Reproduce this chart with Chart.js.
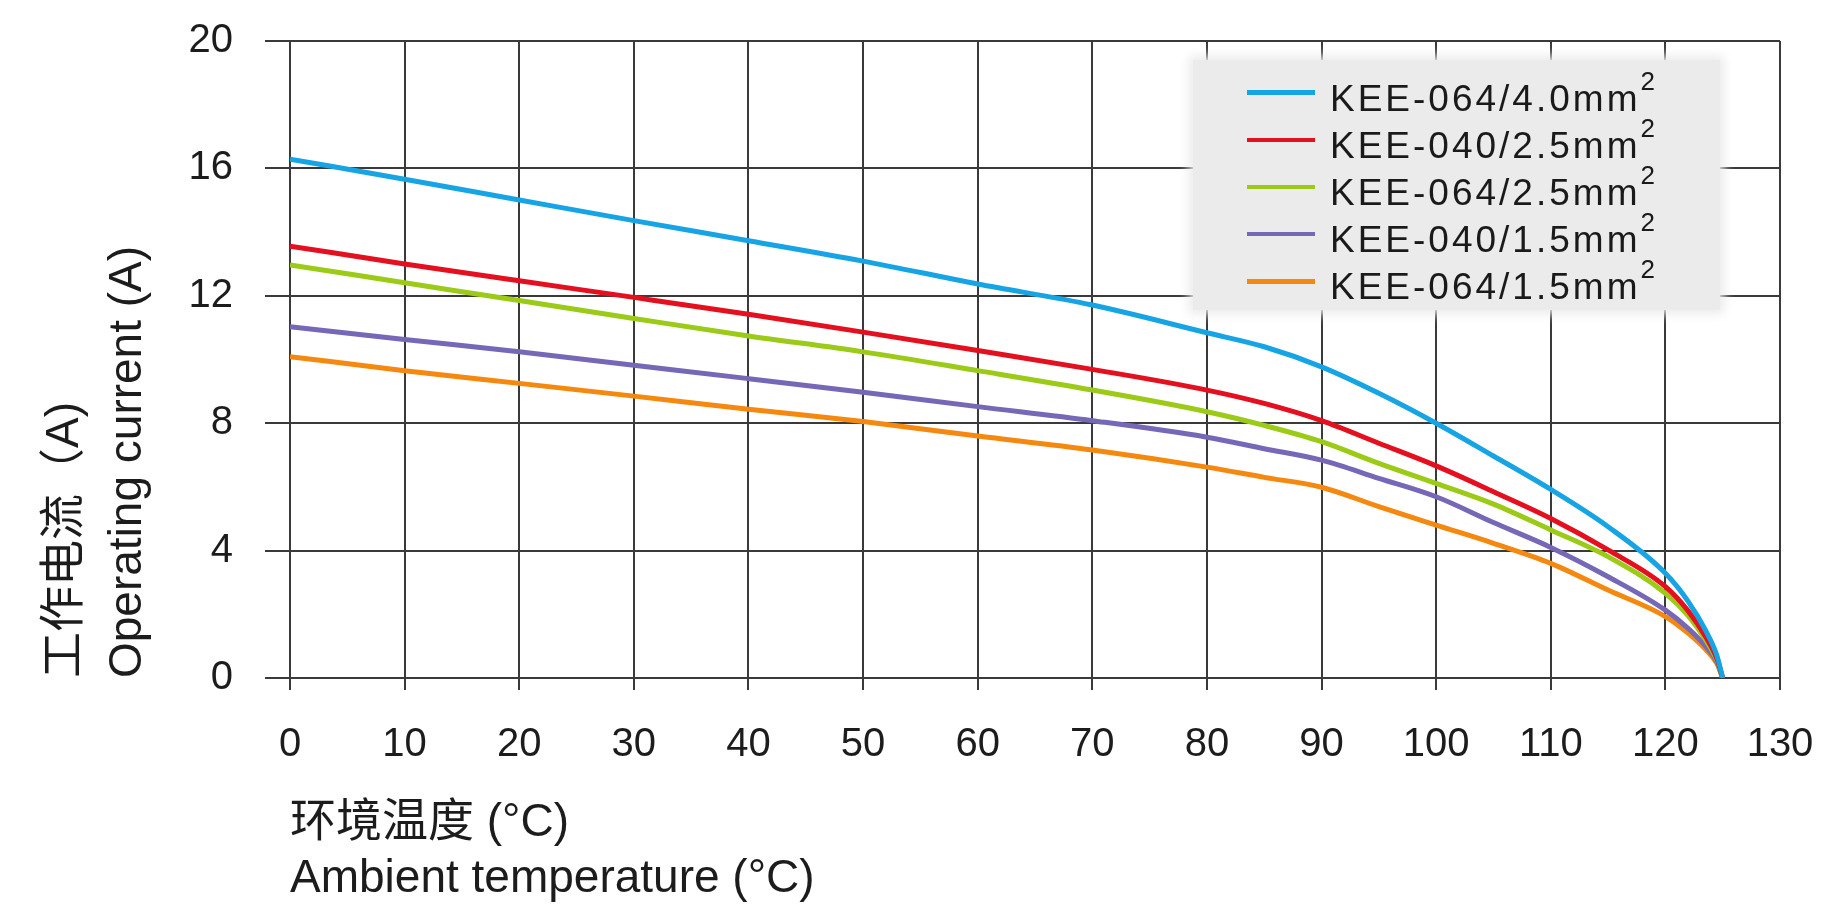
<!DOCTYPE html>
<html>
<head>
<meta charset="utf-8">
<title>工作电流 / Operating current vs ambient temperature</title>
<script src="https://cdn.jsdelivr.net/npm/chart.js@4.4.1/dist/chart.umd.min.js"></script>
<style>
  html, body { margin: 0; padding: 0; background: #fff; }
  #wrap { position: relative; width: 1830px; height: 919px; }
  #legend {
    position: absolute; left: 1193px; top: 60px; width: 527px; height: 250px;
    box-sizing: border-box; padding-top: 9px;
    background: #ebebeb; box-shadow: 0 0 10px 4px #ebebeb;
  }
  #legend .row { display: flex; align-items: center; height: 47.2px; }
  #legend .swatch { display: block; width: 68px; height: 4.5px; margin-left: 54px; margin-right: 15px; }
  #legend .label {
    position: relative; top: 6px; line-height: 1; white-space: nowrap;
    font: 37px "Liberation Sans", Arial, sans-serif; letter-spacing: 3px; color: #1a1a1a;
  }
  #legend .label sup { font-size: 26px; position: relative; top: -21px; vertical-align: baseline; letter-spacing: 0; }
</style>
</head>
<body>
<div id="wrap">
  <canvas id="deratingChart"></canvas>
  <div id="legend"></div>
</div>
<script>
// ambient temperature (°C) where the curves were read
const temps = [0, 10, 20, 30, 40, 50, 60, 70, 80, 85, 90, 95, 100, 105, 110, 115, 120, 122, 123.5, 124.5, 125];

// operating current (A) per cable type
const kee064_40 = [16.29, 15.66, 15.01, 14.36, 13.73, 13.09, 12.37, 11.71, 10.84, 10.4, 9.77, 8.94, 8.0, 6.97, 5.92, 4.75, 3.29, 2.4, 1.5, 0.7, 0];
const kee040_25 = [13.56, 13.0, 12.47, 11.95, 11.42, 10.86, 10.28, 9.69, 9.04, 8.62, 8.08, 7.37, 6.66, 5.85, 5.01, 4.02, 2.87, 2.1, 1.3, 0.6, 0];
const kee064_25 = [12.97, 12.41, 11.85, 11.29, 10.74, 10.24, 9.65, 9.04, 8.36, 7.93, 7.42, 6.74, 6.11, 5.46, 4.65, 3.81, 2.66, 1.95, 1.2, 0.55, 0];
const kee040_15 = [11.03, 10.63, 10.24, 9.82, 9.40, 8.97, 8.52, 8.08, 7.56, 7.2, 6.84, 6.27, 5.69, 4.88, 4.10, 3.18, 2.13, 1.55, 1.0, 0.5, 0];
const kee064_15 = [10.09, 9.65, 9.25, 8.85, 8.44, 8.05, 7.60, 7.16, 6.62, 6.3, 5.99, 5.38, 4.80, 4.23, 3.60, 2.76, 1.93, 1.4, 0.9, 0.45, 0];

const seriesNames = ["KEE-064/4.0mm²", "KEE-040/2.5mm²", "KEE-064/2.5mm²", "KEE-040/1.5mm²", "KEE-064/1.5mm²"];
const seriesValues = [kee064_40, kee040_25, kee064_25, kee040_15, kee064_15];

const xTicks = [0, 10, 20, 30, 40, 50, 60, 70, 80, 90, 100, 110, 120, 130];
const yTicks = [0, 4, 8, 12, 16, 20];

const xTitle = ["环境温度 (°C)", "Ambient temperature (°C)"];
const yTitle = ["工作电流（A)", "Operating current (A)"];

const lineColors = ["#17a4e5", "#e5101f", "#9bca17", "#7668b7", "#f5890f"];
const ink = "#1c1c1c";
const gridColor = "#3a3a3a";
const family = '"Liberation Sans", Arial, "Noto Sans CJK SC", sans-serif';

document.addEventListener("DOMContentLoaded", () => {
  const ctx = document.getElementById("deratingChart");

  const chart = new Chart(ctx, {
    type: "line",
    data: {
      datasets: seriesValues.map((vals, i) => ({
        label: seriesNames[i],
        data: temps.map((t, j) => ({ x: t, y: vals[j] })),
        borderColor: lineColors[i],
        backgroundColor: lineColors[i],
        borderWidth: 5,
        pointRadius: 0,
        cubicInterpolationMode: "monotone",
        fill: false
      }))
    },
    options: {
      responsive: true,
      maintainAspectRatio: false,
      animation: false,
      layout: { padding: { top: 41, right: 50, bottom: 0, left: 0 } },
      plugins: {
        legend: { display: false }, // html legend below
        tooltip: { enabled: false }
      },
      scales: {
        x: {
          type: "linear",
          min: 0,
          max: 130,
          afterBuildTicks: (scale) => { scale.ticks = xTicks.map(v => ({ value: v })); },
          afterFit: (scale) => {
            scale.height = 241;
            scale.paddingLeft = 0;
            scale.paddingRight = 0;
          },
          grid: { color: gridColor, lineWidth: 2, tickLength: 12 },
          border: { color: gridColor, width: 2 },
          ticks: { color: ink, font: { family, size: 40 }, padding: 31, maxRotation: 0, autoSkip: false },
          title: {
            display: true,
            align: "start",
            text: xTitle,
            color: ink,
            font: { family, size: 46, lineHeight: "56px" },
            padding: { top: 0, bottom: 12 }
          }
        },
        y: {
          min: 0,
          max: 20,
          afterBuildTicks: (scale) => { scale.ticks = yTicks.map(v => ({ value: v })); },
          afterFit: (scale) => {
            scale.width = 290;
            scale.paddingTop = 0;
            scale.paddingBottom = 0;
          },
          grid: { color: gridColor, lineWidth: 2, tickLength: 25 },
          border: { color: gridColor, width: 2 },
          ticks: { color: ink, font: { family, size: 40 }, padding: 32 },
          title: {
            display: true,
            align: "start",
            text: yTitle,
            color: ink,
            font: { family, size: 46, lineHeight: "63px" },
            padding: { top: 33.5, bottom: 0 }
          }
        }
      }
    }
  });

  // legend with superscript units, built from the datasets
  const box = document.getElementById("legend");
  chart.data.datasets.forEach(ds => {
    const row = document.createElement("div");
    row.className = "row";
    const sw = document.createElement("span");
    sw.className = "swatch";
    sw.style.background = ds.borderColor;
    const txt = document.createElement("span");
    txt.className = "label";
    txt.innerHTML = ds.label.replace("²", "<sup>2</sup>");
    row.append(sw, txt);
    box.appendChild(row);
  });
});
</script>
</body>
</html>
